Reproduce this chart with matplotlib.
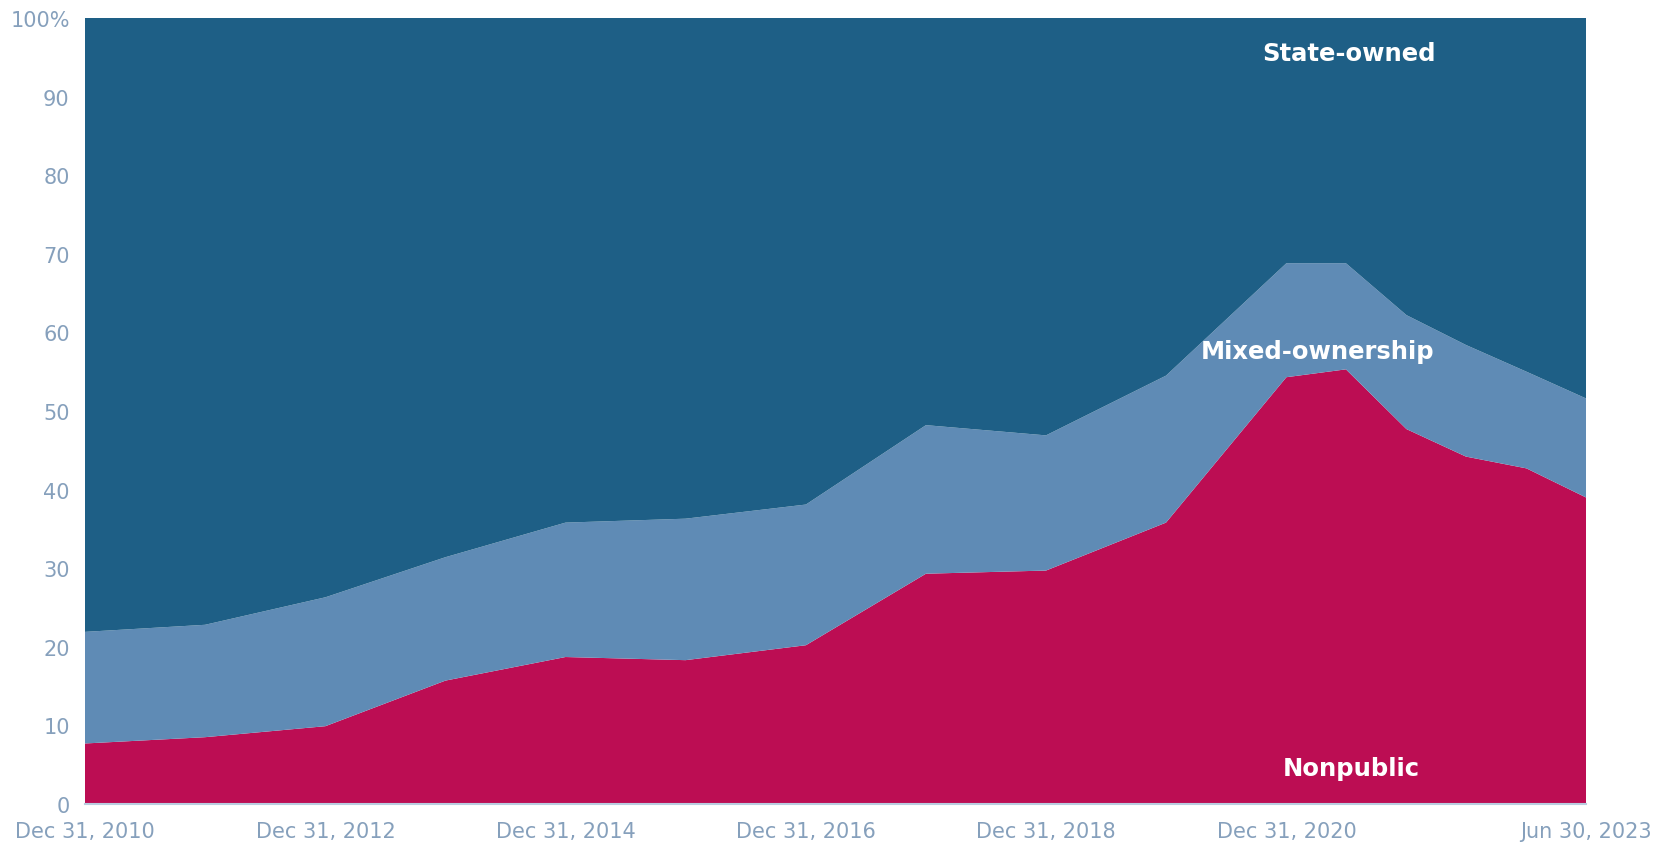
import matplotlib
matplotlib.use("Agg")
import matplotlib.pyplot as plt
import numpy as np
import pandas as pd

dates = ["2010-12-31", "2011-12-31", "2012-12-31", "2013-12-31", "2014-12-31",
         "2015-12-31", "2016-12-31", "2017-12-31", "2018-12-31", "2019-12-31",
         "2020-12-31", "2021-06-30", "2021-12-31", "2022-06-30", "2022-12-31",
         "2023-06-30"]
nonpublic = [7.7, 8.5, 9.9, 15.7, 18.7, 18.3, 20.2, 29.3, 29.7, 35.8,
             54.3, 55.3, 47.7, 44.2, 42.7, 39.0]
mixed_top = [21.9, 22.8, 26.3, 31.4, 35.8, 36.3, 38.1, 48.2, 46.9, 54.5,
             68.8, 68.8, 62.2, 58.4, 55.0, 51.6]
mixed = [t - n for t, n in zip(mixed_top, nonpublic)]
state_owned = [100 - t for t in mixed_top]

tick_dates = ["2010-12-31", "2012-12-31", "2014-12-31", "2016-12-31",
              "2018-12-31", "2020-12-31", "2023-06-30"]
tick_labels = ["Dec 31, 2010", "Dec 31, 2012", "Dec 31, 2014", "Dec 31, 2016",
               "Dec 31, 2018", "Dec 31, 2020", "Jun 30, 2023"]
y_ticks = [0, 10, 20, 30, 40, 50, 60, 70, 80, 90, 100]
y_labels = ["0", "10", "20", "30", "40", "50", "60", "70", "80", "90", "100%"]

c_state = "#1E5F86"
c_mixed = "#5F8BB5"
c_nonpub = "#BC0D53"
c_tick = "#86A0BC"

x = pd.to_datetime(dates)

fig = plt.figure(figsize=(16.69, 8.45), dpi=100)
ax = fig.add_axes([85/1669, 1 - 805/845, (1586-85)/1669, (805-19)/845])
ax.stackplot(x, nonpublic, mixed, state_owned,
             colors=[c_nonpub, c_mixed, c_state], linewidth=0)

ax.set_xlim(x[0], x[-1])
ax.set_ylim(0, 100)
ax.set_yticks(y_ticks)
ax.set_yticklabels(y_labels)
ax.set_xticks(pd.to_datetime(tick_dates))
ax.set_xticklabels(tick_labels)
for s in ["top", "right", "left"]:
    ax.spines[s].set_visible(False)
ax.spines["bottom"].set_color("#B9CDE0")
ax.spines["bottom"].set_linewidth(1.5)
ax.tick_params(axis="both", length=0, colors=c_tick, labelsize=15)
ax.tick_params(axis="x", pad=12)
ax.tick_params(axis="y", pad=11)
for lab in ax.get_xticklabels() + ax.get_yticklabels():
    lab.set_fontfamily("DejaVu Sans")
    lab.set_color(c_tick)

lbl = dict(color="white", fontsize=17.5, fontweight="bold", ha="center",
           va="center", family="DejaVu Sans")
ax.text(pd.Timestamp("2021-07-10"), 95.6, "State-owned", **lbl)
ax.text(pd.Timestamp("2021-04-05"), 57.6, "Mixed-ownership", **lbl)
ax.text(pd.Timestamp("2021-07-15"), 4.6, "Nonpublic", **lbl)

fig.savefig("out.png", dpi=100)
